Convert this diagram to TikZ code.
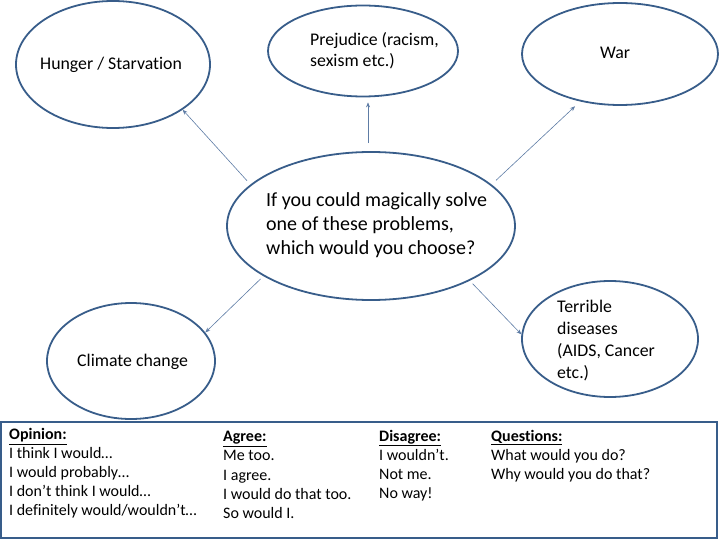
\documentclass[tikz,border=0pt]{standalone}
\usepackage{fontspec}
\setmainfont[Ligatures=NoCommon]{Carlito}
\usetikzlibrary{shapes.geometric,arrows.meta}

\definecolor{rimblue}{RGB}{56,93,138}
\definecolor{linkblue}{RGB}{94,124,165}

\tikzset{
  problem/.style={ellipse, draw=rimblue, line width=1.8pt, inner sep=0pt},
  link/.style={draw=linkblue, line width=0.6pt, -{Stealth[length=5pt,width=4pt]}},
  label/.style={inner sep=0pt, align=left, anchor=base west}
}

\begin{document}
\begin{tikzpicture}[x=1pt,y=1pt,yscale=-1,xscale=1]
\useasboundingbox (0,0) rectangle (720,540);

%Ellipses
\node (hunger) [problem, minimum width=194, minimum height=127] at (113,64.5) {};
\node (prejudice) [problem, minimum width=190, minimum height=91] at (363,51) {};
\node (war) [problem, minimum width=196, minimum height=102] at (620,54) {};
\node (centre) [problem, minimum width=288, minimum height=148] at (371,226) {};
\node (climate) [problem, minimum width=168, minimum height=116] at (131,361) {};
\node (disease) [problem, minimum width=176, minimum height=116] at (610,339) {};

%Arrows
\draw [link, shorten <=5pt] (centre.161) -- (hunger.327);
\draw [link, shorten <=8pt, shorten >=5pt] ([xshift=-3pt]centre.north) -- ([xshift=-3pt]centre.north |- prejudice.south);
\draw [link, shorten <=6pt, shorten >=7pt] (centre.19) -- (war.230);
\draw [link, shorten <=4pt] (centre.205) -- (climate.21);
\draw [link, shorten <=4pt] (centre.331) -- (disease.177);

% Text Node (base = last line)
\draw (40,69.5) node (hungertxt) [label, font=\fontsize{17.8}{21}\selectfont] {Hunger / Starvation};
% Text Node
\draw (310,67) node (prejudicetxt) [label, font=\fontsize{17.8}{21}\selectfont] {Prejudice (racism,\\sexism etc.)};
% Text Node
\draw (600,58.5) node (wartxt) [label, font=\fontsize{17.8}{21}\selectfont] {War};
% Text Node
\draw (266,254.5) node (centretxt) [label, font=\fontsize{20}{24}\selectfont] {If you could magically solve\\one of these problems,\\which would you choose?};
% Text Node
\draw (77,366) node (climatetxt) [label, font=\fontsize{17.8}{21}\selectfont] {Climate change};
% Text Node
\draw (557,378) node (diseasetxt) [label, font=\fontsize{17.8}{21.7}\selectfont] {Terrible\\diseases\\(AIDS, Cancer\\etc.)};

%Phrase box
\draw [draw=rimblue, line width=1.2pt] (1,422) rectangle (717,538);
\node (opinion) [label, font=\fontsize{16}{18.8}\selectfont] at (9,515) {\textbf{\underline{Opinion:}}\\I think I would\dots\\I would probably\dots\\I don’t think I would\dots\\I definitely would/wouldn’t\dots};
\node (agree) [label, font=\fontsize{16}{19.2}\selectfont] at (223,518.5) {\textbf{\underline{Agree:}}\\Me too.\\I agree.\\I would do that too.\\So would I.};
\node (disagree) [label, font=\fontsize{16}{19}\selectfont] at (379,498) {\textbf{\underline{Disagree:}}\\I wouldn’t.\\Not me.\\No way!};
\node (questions) [label, font=\fontsize{16}{19}\selectfont] at (491,479) {\textbf{\underline{Questions:}}\\What would you do?\\Why would you do that?};

\end{tikzpicture}
\end{document}
